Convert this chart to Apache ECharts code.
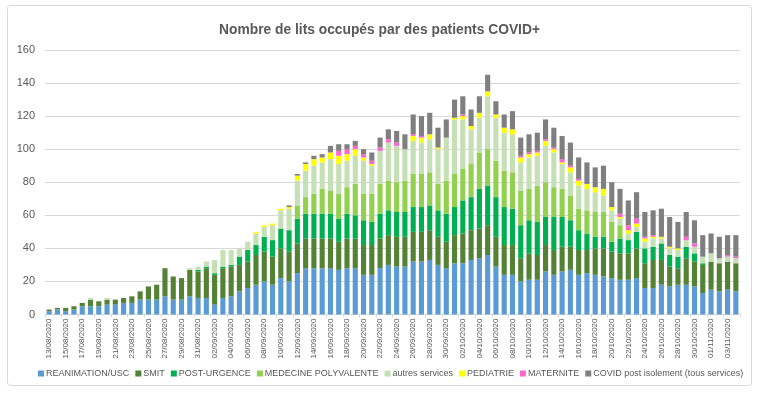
<!DOCTYPE html>
<html><head><meta charset="utf-8">
<script src="https://cdn.jsdelivr.net/npm/echarts@6/dist/echarts.min.js"></script>
<style>html,body{margin:0;padding:0;background:#fff}#c{width:759px;height:394px}</style>
</head><body><div id="c"></div>
<script>
const dates = ["13/08/2020","14/08/2020","15/08/2020","16/08/2020","17/08/2020","18/08/2020","19/08/2020","20/08/2020","21/08/2020","22/08/2020","23/08/2020","24/08/2020","25/08/2020","26/08/2020","27/08/2020","28/08/2020","29/08/2020","30/08/2020","31/08/2020",
"01/09/2020","02/09/2020","03/09/2020","04/09/2020","05/09/2020","06/09/2020","07/09/2020","08/09/2020","09/09/2020","10/09/2020","11/09/2020","12/09/2020","13/09/2020","14/09/2020","15/09/2020","16/09/2020","17/09/2020","18/09/2020","19/09/2020","20/09/2020","21/09/2020","22/09/2020","23/09/2020","24/09/2020","25/09/2020","26/09/2020","27/09/2020","28/09/2020","29/09/2020","30/09/2020",
"01/10/2020","02/10/2020","03/10/2020","04/10/2020","05/10/2020","06/10/2020","07/10/2020","08/10/2020","09/10/2020","10/10/2020","11/10/2020","12/10/2020","13/10/2020","14/10/2020","15/10/2020","16/10/2020","17/10/2020","18/10/2020","19/10/2020","20/10/2020","21/10/2020","22/10/2020","23/10/2020","24/10/2020","25/10/2020","26/10/2020","27/10/2020","28/10/2020","29/10/2020","30/10/2020","31/10/2020",
"01/11/2020","02/11/2020","03/11/2020","04/11/2020"];

const reanimation = [2,3,2,3,5,5,5,6,6,7,7,9,9,9,11,9,9,11,10,10,6,10,11,14,16,18,20,18,22,20,25,28,28,28,28,27,28,28,24,24,28,30,29,29,32,32,33,30,28,31,31,33,34,36,29,24,24,20,21,21,26,24,26,27,24,25,24,23,22,21,21,22,16,16,18,17,18,18,17,13,15,14,15,14];
const smit = [1,1,2,2,2,4,3,3,3,3,4,5,8,9,17,14,13,16,16,18,18,18,18,16,16,18,18,17,18,18,18,18,18,18,18,17,18,18,18,18,18,18,18,18,18,18,18,17,16,17,18,18,18,18,18,18,18,14,16,15,16,15,15,14,15,14,16,17,16,16,16,18,15,17,15,12,10,16,15,17,17,17,17,17];
const postUrgence = [0,0,0,0,0,0,0,0,0,0,0,0,0,0,0,0,0,0,1,1,1,1,1,5,7,6,9,10,12,13,15,15,15,15,15,14,15,14,15,14,15,15,15,15,15,15,15,16,17,17,20,20,24,24,24,23,22,20,20,20,17,20,18,16,12,10,7,7,6,9,8,10,9,8,10,7,7,7,5,1,0,0,0,0];
const medecinePoly = [0,0,0,0,0,0,0,0,0,0,0,0,0,0,0,0,0,0,0,0,0,0,0,0,0,0,0,0,0,0,8,10,12,15,14,15,16,19,16,17,18,18,18,19,20,20,20,16,20,20,19,20,22,22,22,22,22,21,19,22,21,18,17,15,13,14,15,15,12,8,0,0,0,0,0,0,0,0,0,0,0,0,0,0];
const autres = [0,0,0,0,0,1,0,1,0,0,0,0,0,0,0,0,0,1,2,3,8,10,9,5,5,7,6,9,11,13,15,16,17,16,19,18,16,17,20,17,20,23,22,19,20,19,20,21,26,33,30,21,21,32,26,23,23,17,19,18,22,21,15,14,14,13,12,10,7,4,4,3,4,5,3,4,4,4,4,4,5,3,3,3];
const pediatrie = [0,0,0,0,0,0,0,0,0,0,0,0,0,0,0,0,0,0,0,0,0,0,0,0,0,1,1,1,1,1,3,4,4,3,4,5,4,4,2,1,0,0,0,0,3,3,3,1,0,1,2,2,3,3,2,3,3,3,2,2,3,2,1,3,3,3,3,4,2,1,2,2,2,1,1,1,1,0,0,0,0,0,0,0];
const maternite = [0,0,0,0,0,0,0,0,0,0,0,0,0,0,0,0,0,0,0,0,0,0,0,0,0,0,0,0,0,0,0,0,0,0,0,3,3,2,2,2,2,2,2,0,1,1,0,0,0,0,1,0,0,0,0,0,0,1,1,1,1,1,2,1,1,0,0,0,0,2,3,3,1,1,0,0,0,2,2,0,0,0,1,1];
const covidPost = [0,0,0,0,0,0,0,0,0,0,0,0,0,0,0,0,0,0,0,0,0,0,0,0,0,0,0,0,0,1,1,1,2,2,4,4,3,3,3,5,6,6,7,9,12,12,13,12,11,11,11,10,10,10,8,8,11,11,11,11,12,12,14,14,13,13,12,14,15,15,15,16,15,15,17,18,16,15,14,13,12,13,12,13];

const yTicks = [0,20,40,60,80,100,120,140,160];

const seriesDefs = [
  ["REANIMATION/USC", reanimation, "#5b9bd5"],
  ["SMIT", smit, "#548235"],
  ["POST-URGENCE", postUrgence, "#00b050"],
  ["MEDECINE POLYVALENTE", medecinePoly, "#92d050"],
  ["autres services", autres, "#c5e0b4"],
  ["PEDIATRIE", pediatrie, "#ffff00"],
  ["MATERNITE", maternite, "#ff66cc"],
  ["COVID post isolement (tous services)", covidPost, "#7f7f7f"]
];

const chart = echarts.init(document.getElementById('c'), null, {renderer:'canvas'});
chart.setOption({
  animation:false,
  backgroundColor:'#fff',
  graphic:[{type:'rect',shape:{x:7.5,y:5.5,width:744,height:380,r:3},style:{fill:'none',stroke:'#d9d9d9',lineWidth:1},silent:true,z:-1}],
  title:{text:'Nombre de lits occupés par des patients COVID+',left:'center',top:18,
    textStyle:{fontFamily:'Liberation Sans',fontSize:13.8,fontWeight:'bold',color:'#595959'}},
  grid:{left:45,right:19,top:50,bottom:79.5,containLabel:false},
  legend:{top:369,left:38,width:740,padding:0,itemWidth:6,itemHeight:6,itemGap:6,icon:'rect',
    textStyle:{fontFamily:'Liberation Sans',fontSize:9,color:'#595959',padding:[0,0,0,-3]},
    data:seriesDefs.map(s=>s[0])},
  xAxis:{type:'category',data:dates,
    axisLine:{lineStyle:{color:'#d9d9d9'}},
    axisTick:{show:true,interval:1,length:3,lineStyle:{color:'#d9d9d9'}},
    axisLabel:{interval:1,rotate:90,fontFamily:'Liberation Sans',fontSize:8,color:'#595959',margin:4}},
  yAxis:{type:'value',min:yTicks[0],max:yTicks[yTicks.length-1],interval:20,
    axisLine:{show:false},axisTick:{show:false},
    splitLine:{lineStyle:{color:'#d9d9d9'}},
    axisLabel:{fontFamily:'Liberation Sans',fontSize:11,color:'#595959',margin:10}},
  series:seriesDefs.map(s=>({name:s[0],type:'bar',stack:'t',data:s[1],barCategoryGap:'38%',
    itemStyle:{color:s[2]}}))
});
</script></body></html>
